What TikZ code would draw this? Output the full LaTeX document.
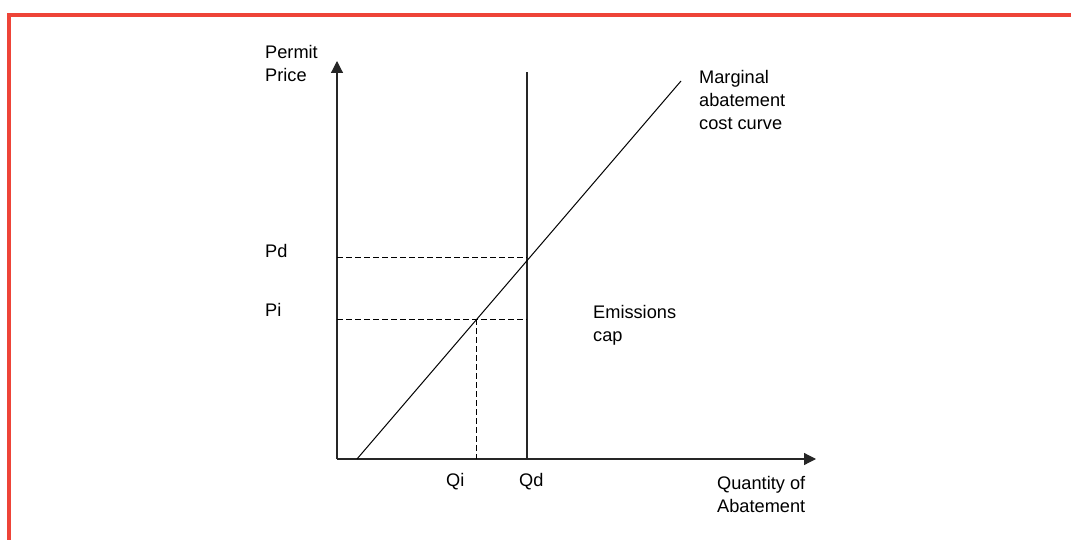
\documentclass[tikz,border=0pt]{standalone}
\usepackage{fontspec}
\setmainfont{Liberation Sans}
\usetikzlibrary{arrows.meta}
\definecolor{framered}{RGB}{238,68,56}

\begin{document}
\begin{tikzpicture}[x=1pt,y=-1pt,
    lbl/.style={anchor=north west,inner sep=0pt,align=left,font=\fontsize{18.2}{23}\selectfont},
    axis/.style={line width=1.2pt,black!85,-{Triangle[length=12pt,width=12pt]}},
    guide/.style={line width=0.9pt,dash pattern=on 6pt off 3pt}]
  \useasboundingbox (0,0) rectangle (1071,540);
  \draw[framered,line width=4pt] (9,540) -- (9,15) -- (1071,15);
  % points
  \coordinate (O) at (337,459);
  \coordinate (ytop) at (337,61);
  \coordinate (xend) at (816,459);
  \coordinate (capTop) at (527,72);
  \coordinate (capBot) at (527,459);
  \coordinate (macStart) at (357,459);
  \coordinate (macEnd) at (681,81);
  \coordinate (Pd) at (527,257);
  \coordinate (Pi) at (476,319);
  \coordinate (PdAxis) at (337,257);
  \coordinate (PiAxis) at (337,319);
  \coordinate (PiCap) at (527,319);
  \coordinate (Qi) at (476,459);
  % axes and curves
  \draw[axis] (O) -- (ytop);
  \draw[axis] (O) -- (xend);
  \draw[line width=1.2pt,black!85] (capBot) -- (capTop);
  \draw[line width=1pt] (macStart) -- (macEnd);
  \draw[guide] (PdAxis) -- (Pd);
  \draw[guide] (PiAxis) -- (PiCap);
  \draw[guide] (Pi) -- (Qi);
  % labels
  \node[lbl] (price) at (265,45) {Permit\\Price};
  \node[lbl] (pd) at (265,244) {Pd};
  \node[lbl] (pi) at (265,303) {Pi};
  \node[lbl] (qi) at (446,473) {Qi};
  \node[lbl] (qd) at (519,473) {Qd};
  \node[lbl] (qty) at (717,476) {Quantity of\\Abatement};
  \node[lbl] (mac) at (699,70) {Marginal\\abatement\\cost curve};
  \node[lbl] (cap) at (593,305) {Emissions\\cap};
\end{tikzpicture}
\end{document}
